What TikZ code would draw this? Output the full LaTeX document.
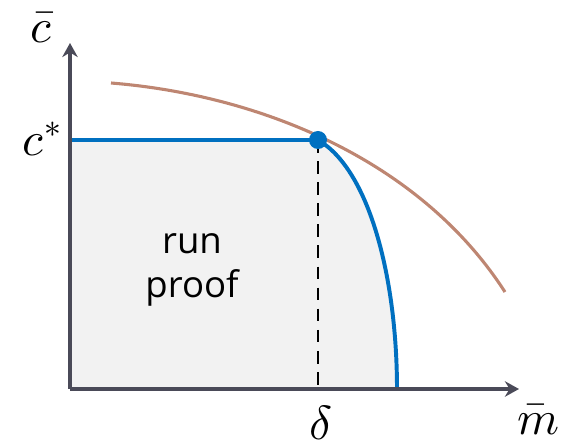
\documentclass[tikz,border=0pt]{standalone}
\usepackage{fontspec}
\usepackage{unicode-math}
\setmainfont{Open Sans}
\setmathfont{Latin Modern Math}
\usetikzlibrary{arrows.meta}
\definecolor{axisgray}{HTML}{4A4A58}
\definecolor{curveblue}{HTML}{0070C0}
\definecolor{curvebrown}{HTML}{BE8672}
\definecolor{regiongray}{HTML}{F2F2F2}
\tikzset{
  axis/.style={axisgray, line width=2.2pt, -{Stealth[length=10pt, width=11pt]}},
  frontier/.style={curveblue, line width=2.8pt},
  bound/.style={curvebrown, line width=2.2pt},
  guide/.style={black, line width=1.5pt, dash pattern=on 9pt off 6pt},
  mathlabel/.style={font=\fontsize{34}{36}\selectfont},
}
\begin{document}
\begin{tikzpicture}[x=0.025cm, y=-0.025cm]
  \useasboundingbox (0,0) rectangle (567,445);

  \coordinate (O) at (70,389);
  \coordinate (ytip) at (70,43);
  \coordinate (xtip) at (519,389);
  \coordinate (ctop) at (70,140);
  \coordinate (P) at (318,140);
  \coordinate (Pfoot) at (318,389);
  \coordinate (R) at (397,389);
  \coordinate (bstart) at (111,83);
  \coordinate (bend) at (505,292);

  % shaded region under the blue frontier
  \fill[regiongray] (O) -- (ctop) -- (P) .. controls (370,170) and (397,280) .. (R) -- cycle;

  \draw[guide] (P) -- (Pfoot);
  \draw[bound] (bstart) .. controls (260,95) and (420,160) .. (bend);
  \draw[frontier] (ctop) -- (P) .. controls (370,170) and (397,280) .. (R);
  \fill[curveblue] (P) circle (9);

  \draw[axis] (O) -- (ytip);
  \draw[axis] (O) -- (xtip);

  \node[mathlabel] (cbar) at (41,27) {$\bar{c}$};
  \node[mathlabel] (cstar) at (42,139) {$c^*$};
  \node[mathlabel] (delta) at (321,423) {$\delta$};
  \node[mathlabel] (mbar) at (538,419) {$\bar{m}$};
  \node[font=\fontsize{26}{31}\selectfont, align=center] (label) at (192,270) {run\\proof};
\end{tikzpicture}
\end{document}
